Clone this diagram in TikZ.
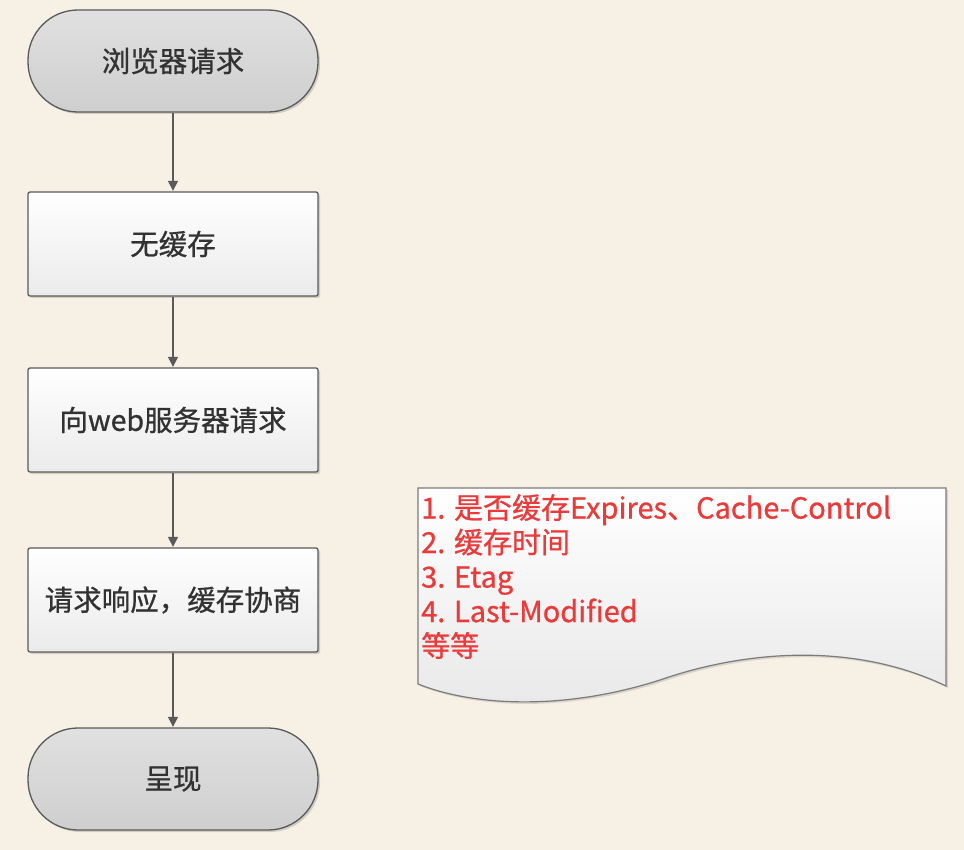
\documentclass[tikz,border=0pt]{standalone}
\usepackage{fontspec}
\setmainfont{Noto Sans CJK SC}[FakeBold=0.8]
\usetikzlibrary{arrows.meta,shadows}
\definecolor{paper}{RGB}{246,240,229}
\definecolor{edge}{RGB}{90,90,90}
\definecolor{ink}{RGB}{50,50,50}
\definecolor{notered}{RGB}{236,58,58}
\tikzset{
  base/.style={draw=edge, line width=1.3pt, text=ink, align=center,
    font=\fontsize{28.5}{32}\selectfont, inner sep=0pt,
    minimum width=290pt,
    drop shadow={shadow xshift=2pt, shadow yshift=-2pt, opacity=0.25, fill=black!60}},
  terminal/.style={base, minimum height=102pt, rounded corners=50pt,
    top color=black!12, bottom color=black!19},
  stepbox/.style={base, minimum height=104pt, rounded corners=2pt,
    top color=white, bottom color=black!8},
  flow/.style={draw=edge, line width=1.3pt,
    -{Triangle[width=10pt,length=10pt]}, shorten >=0.5pt},
}
\begin{document}
\begin{tikzpicture}[x=1pt, y=-1pt]
  % page
  \fill[paper] (0,0) rectangle (964,850);
  \useasboundingbox (0,0) rectangle (964,850);

  % main flow
  \node[terminal] (req)     at (173,61)  {浏览器请求};
  \node[stepbox]  (nocache) at (173,244) {无缓存};
  \node[stepbox]  (server)  at (173,420) {向web服务器请求};
  \node[stepbox]  (nego)    at (173,600) {请求响应，缓存协商};
  \node[terminal] (show)    at (173,779) {呈现};

  \draw[flow] (req)     -- (nocache);
  \draw[flow] (nocache) -- (server);
  \draw[flow] (server)  -- (nego);
  \draw[flow] (nego)    -- (show);

  % document note with wavy lower edge
  \path[draw=edge!80, line width=1.2pt, top color=white, bottom color=black!9,
        drop shadow={shadow xshift=2pt, shadow yshift=-2pt, opacity=0.2, fill=black!60}]
    (418,488) -- (946,488) -- (946,686)
    .. controls (850,640) and (740,652) .. (660,680)
    .. controls (560,712) and (470,705) .. (418,684) -- cycle;
  \node[anchor=north west, inner sep=0pt, align=left, text=notered,
        font=\fontsize{29}{34.5}\selectfont] (note) at (421,494)
    {1. 是否缓存Expires、Cache-Control\\
     2. 缓存时间\\
     3. Etag\\
     4. Last-Modified\\
     等等};
\end{tikzpicture}
\end{document}
